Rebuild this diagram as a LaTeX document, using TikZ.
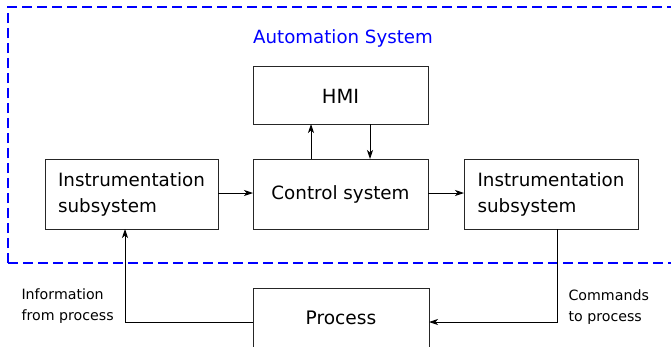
\documentclass[tikz,border=0pt]{standalone}
\usepackage{fontspec}
\setmainfont{DejaVu Sans}
\usetikzlibrary{arrows.meta}
\begin{document}
\begin{tikzpicture}[x=1pt,y=-1pt,
  blockbox/.style={draw=black!85,line width=0.9pt,fill=white},
  flow/.style={draw=black,line width=0.9pt,-{Stealth[length=9pt,width=6pt,inset=2.5pt]}},
  boxtext/.style={font=\fontsize{18.3}{26}\selectfont,align=left},
  smalltext/.style={font=\fontsize{14.2}{21}\selectfont,align=left,anchor=west}]
\useasboundingbox (0,0) rectangle (671,346);
\clip (0,0) rectangle (671,346);
% system boundary
\draw[blue,line width=1.4pt,dash pattern=on 10pt off 5pt] (8,263) -- (8,7) -- (690,7);
\draw[blue,line width=1.4pt,dash pattern=on 10pt off 5pt] (8,263) -- (690,263);
\node[blue,font=\fontsize{18.2}{22}\selectfont] (title) at (343,38) {Automation System};
% blocks
\draw[blockbox] (253,66) rectangle (428,124);
\node[font=\fontsize{19.5}{22}\selectfont] (hmi) at (340.5,96) {HMI};
\draw[blockbox] (253,159) rectangle (428,229);
\node[boxtext] (ctrl) at (340.5,194) {Control system};
\draw[blockbox] (45,159) rectangle (218,229);
\node[boxtext] (inL) at (131.5,194) {Instrumentation\\subsystem};
\draw[blockbox] (464,159) rectangle (638,229);
\node[boxtext] (inR) at (551,194) {Instrumentation\\subsystem};
\draw[blockbox] (253,288) rectangle (429,360);
\node[font=\fontsize{18.6}{22}\selectfont] (proc) at (341,318) {Process};
% connectors
\coordinate (ctrlW) at (253,193);
\coordinate (ctrlE) at (428,193);
\coordinate (inLE) at (218,193);
\coordinate (inRW) at (464,193);
\draw[flow] (inLE) -- (ctrlW);
\draw[flow] (ctrlE) -- (inRW);
\coordinate (ctrlN1) at (311,159);
\coordinate (hmiS1) at (311,124);
\coordinate (hmiS2) at (370,124);
\coordinate (ctrlN2) at (370,159);
\draw[flow] (ctrlN1) -- (hmiS1);
\draw[flow] (hmiS2) -- (ctrlN2);
\coordinate (procW) at (253,322);
\coordinate (inLS) at (125,229);
\draw[flow] (procW) -- (125,322) -- (inLS);
\coordinate (inRS) at (557,229);
\coordinate (procE) at (429,322);
\draw[flow] (inRS) -- (557,322) -- (procE);
% labels
\node[smalltext] (infoL) at (18,306.5) {Information\\from process};
\node[smalltext] (cmdL) at (565,307.5) {Commands\\to process};
\end{tikzpicture}
\end{document}
